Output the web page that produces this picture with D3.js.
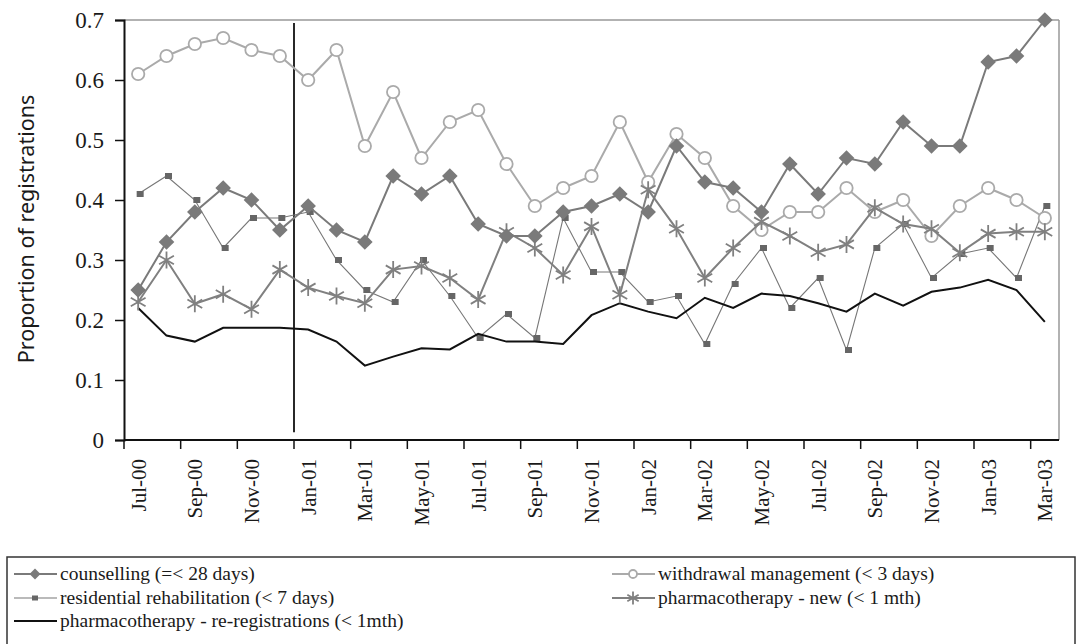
<!DOCTYPE html>
<html><head><meta charset="utf-8">
<script src="https://cdn.jsdelivr.net/npm/d3@7"></script>
<style>body{margin:0;background:#fff}svg{display:block}</style>
</head><body><svg id="c" width="1082" height="644"></svg>
<script>
const months = ["Jul-00","Aug-00","Sep-00","Oct-00","Nov-00","Dec-00","Jan-01","Feb-01","Mar-01","Apr-01","May-01","Jun-01","Jul-01","Aug-01","Sep-01","Oct-01","Nov-01","Dec-01","Jan-02","Feb-02","Mar-02","Apr-02","May-02","Jun-02","Jul-02","Aug-02","Sep-02","Oct-02","Nov-02","Dec-02","Jan-03","Feb-03","Mar-03"];
const counselling = [0.25,0.33,0.38,0.42,0.40,0.35,0.39,0.35,0.33,0.44,0.41,0.44,0.36,0.34,0.34,0.38,0.39,0.41,0.38,0.49,0.43,0.42,0.38,0.46,0.41,0.47,0.46,0.53,0.49,0.49,0.63,0.64,0.70];
const withdrawal = [0.61,0.64,0.66,0.67,0.65,0.64,0.60,0.65,0.49,0.58,0.47,0.53,0.55,0.46,0.39,0.42,0.44,0.53,0.43,0.51,0.47,0.39,0.35,0.38,0.38,0.42,0.38,0.40,0.34,0.39,0.42,0.40,0.37];
const residential = [0.41,0.44,0.40,0.32,0.37,0.37,0.38,0.30,0.25,0.23,0.30,0.24,0.17,0.21,0.17,0.37,0.28,0.28,0.23,0.24,0.16,0.26,0.32,0.22,0.27,0.15,0.32,0.36,0.27,0.31,0.32,0.27,0.39];
const pharmNew = [0.23,0.30,0.227,0.243,0.218,0.284,0.254,0.24,0.228,0.284,0.29,0.27,0.234,0.347,0.32,0.275,0.356,0.242,0.417,0.352,0.27,0.32,0.364,0.34,0.313,0.326,0.387,0.36,0.352,0.312,0.344,0.347,0.347];
const pharmRe = [0.22,0.174,0.164,0.187,0.187,0.187,0.184,0.164,0.124,0.139,0.153,0.151,0.177,0.164,0.164,0.16,0.208,0.228,0.214,0.203,0.237,0.22,0.244,0.24,0.228,0.214,0.244,0.224,0.247,0.254,0.267,0.25,0.197];
const yTicks = [0,0.1,0.2,0.3,0.4,0.5,0.6,0.7];
const labelMonths = months.filter((m,i)=>i%2===0);
const seriesNames = ["counselling (=< 28 days)","withdrawal management (< 3 days)","residential rehabilitation (< 7 days)","pharmacotherapy - new (< 1 mth)","pharmacotherapy - re-registrations (< 1mth)"];
const markerLine = "Jan-01";

const SERIF = "'Liberation Serif','DejaVu Serif',serif";
const svg = d3.select("#c").style("font-family",SERIF);
const L=124, R=1059, T=20, B=440;
const x = d3.scaleBand().domain(months).range([L,R]);
const cx = m => x(m)+x.bandwidth()/2;
const y = d3.scaleLinear().domain([0,0.7]).range([B,T]);

svg.append("line").attr("x1",L).attr("x2",R).attr("y1",T).attr("y2",T).attr("stroke","#999").attr("stroke-width",1.5);
svg.append("line").attr("x1",R).attr("x2",R).attr("y1",T).attr("y2",B).attr("stroke","#999").attr("stroke-width",1.5);

const ya = svg.append("g").attr("transform",`translate(${L},0)`)
 .call(d3.axisLeft(y).tickValues(yTicks).tickFormat(d=>d===0?"0":d3.format(".1f")(d)).tickSize(9).tickPadding(11));
ya.attr("font-family",null).attr("font-size",null);
ya.select(".domain").attr("stroke","#111").attr("stroke-width",2);
ya.selectAll(".tick line").attr("stroke","#111").attr("stroke-width",1.5);
ya.selectAll(".tick text").style("font-size","23px").style("font-family",SERIF).attr("fill","#1a1a1a");

const xa = svg.append("g").attr("transform",`translate(0,${B})`);
xa.append("line").attr("x1",L).attr("x2",R).attr("stroke","#111").attr("stroke-width",2);
months.forEach((m,i)=>{ if(i%2===0){ xa.append("line").attr("x1",x(m)).attr("x2",x(m)).attr("y1",0).attr("y2",9).attr("stroke","#111").attr("stroke-width",1.5);} });
labelMonths.forEach(m=>{
  xa.append("text").attr("transform",`translate(${cx(m)+7.5},19) rotate(-90)`).attr("text-anchor","end")
    .style("font-size","21px").style("font-family",SERIF).attr("fill","#1a1a1a").text(m);
});

svg.append("text").attr("transform","translate(34,229) rotate(-90)").attr("text-anchor","middle")
  .style("font-size","21.5px").style("font-family","'Noto Sans',sans-serif").attr("fill","#1a1a1a").text("Proportion of registrations");

svg.append("line").attr("x1",x(markerLine)).attr("x2",x(markerLine)).attr("y1",y(0.695)).attr("y2",y(0.013)).attr("stroke","#111").attr("stroke-width",1.8);

const line = d3.line().x((d,i)=>cx(months[i])).y(d=>y(d));

function diamond(g,px,py,s){ g.append("path").attr("d",`M${px},${py-s}L${px+s},${py}L${px},${py+s}L${px-s},${py}Z`).attr("fill","#7a7a7a"); }
function circ(g,px,py,r){ g.append("circle").attr("cx",px).attr("cy",py).attr("r",r).attr("fill","#fff").attr("stroke","#aaa").attr("stroke-width",1.8); }
function sq(g,px,py){ g.append("rect").attr("x",px-3.5+2).attr("y",py-3).attr("width",7).attr("height",6).attr("fill","#666"); }
function star(g,px,py,s,c){ const a=s*0.87,b=s*0.5; g.append("path").attr("d",`M${px},${py-s}L${px},${py+s}M${px-a},${py-b}L${px+a},${py+b}M${px-a},${py+b}L${px+a},${py-b}`).attr("stroke",c||"#808080").attr("stroke-width",1.8); }

svg.append("path").attr("d",line(residential)).attr("fill","none").attr("stroke","#777").attr("stroke-width",1.1);
const gR=svg.append("g"); residential.forEach((v,i)=>sq(gR,cx(months[i]),y(v)));
svg.append("path").attr("d",line(pharmRe)).attr("fill","none").attr("stroke","#111").attr("stroke-width",2);
svg.append("path").attr("d",line(withdrawal)).attr("fill","none").attr("stroke","#aaa").attr("stroke-width",2);
const gW=svg.append("g"); withdrawal.forEach((v,i)=>circ(gW,cx(months[i]),y(v),6.2));
svg.append("path").attr("d",line(pharmNew)).attr("fill","none").attr("stroke","#808080").attr("stroke-width",2);
const gP=svg.append("g"); pharmNew.forEach((v,i)=>star(gP,cx(months[i]),y(v),8.5));
svg.append("path").attr("d",line(counselling)).attr("fill","none").attr("stroke","#7a7a7a").attr("stroke-width",2);
const gC=svg.append("g"); counselling.forEach((v,i)=>diamond(gC,cx(months[i]),y(v),7.8));

svg.append("rect").attr("x",7).attr("y",557).attr("width",1068).attr("height",100).attr("fill","none").attr("stroke","#333").attr("stroke-width",1.5);
const lg = svg.append("g");
const pos = [[14,574],[612,574],[14,598],[612,598],[14,621]];
pos.forEach((p,i)=>{
  const [lx,ly]=p, mx=lx+21;
  const col = ["#7a7a7a","#aaa","#777","#808080","#111"][i];
  lg.append("line").attr("x1",lx).attr("x2",lx+43).attr("y1",ly).attr("y2",ly).attr("stroke",col).attr("stroke-width",i===2?1.1:2);
  if(i===0) diamond(lg,mx,ly,5.5);
  if(i===1) circ(lg,mx,ly,4);
  if(i===2) lg.append("rect").attr("x",mx-3).attr("y",ly-2.5).attr("width",6).attr("height",5).attr("fill","#666");
  if(i===3) star(lg,mx,ly,6.5);
  lg.append("text").attr("x",lx+46).attr("y",ly+6).style("font-size","19.5px").style("font-family",SERIF).attr("fill","#1a1a1a").text(seriesNames[i]);
});
</script></body></html>
